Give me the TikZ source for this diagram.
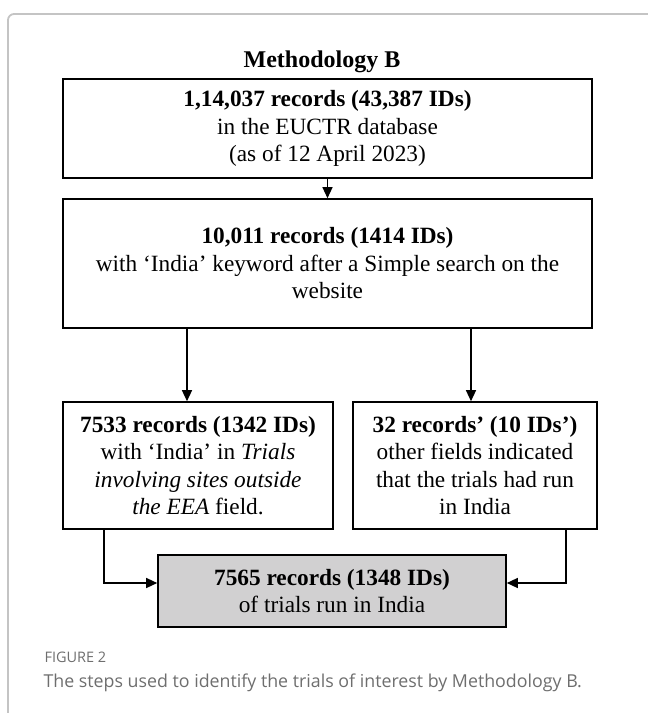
\documentclass[tikz,border=0pt]{standalone}
\usepackage{fontspec}
\setmainfont{Liberation Serif}
\newfontfamily\capfont{Open Sans}
\usetikzlibrary{arrows.meta}
\definecolor{framegray}{HTML}{C4C4C4}
\definecolor{boxgray}{HTML}{D1D0D1}
\definecolor{capgray}{HTML}{6E6E6E}
\tikzset{
  stepbox/.style={draw=black, line width=1.6pt, inner sep=0pt, align=center,
    font=\fontsize{23.3}{27.5}\selectfont},
  arr/.style={line width=1.3pt, -{Triangle[length=11pt,width=10pt]}},
}
\begin{document}
\begin{tikzpicture}[x=1pt,y=1pt]
\useasboundingbox (0,0) rectangle (648,-713);
% outer frame
\draw[framegray, line width=1.8pt, rounded corners=6pt] (8,-720) -- (8,-14) -- (660,-14);
% title
\node[font=\fontsize{24}{28}\selectfont\bfseries] (title) at (322,-62) {Methodology B};
% boxes
\node[stepbox, minimum width=529pt, minimum height=99pt] (b1) at (327.5,-128.5)
  {\textbf{1,14,037 records (43,387 IDs)}\\in the EUCTR database\\(as of 12 April 2023)};
\node[stepbox, minimum width=529pt, minimum height=129pt] (b2) at (327.5,-263.5)
  {\textbf{10,011 records (1414 IDs)}\\with ‘India’ keyword after a Simple search on the\\website};
\node[stepbox, minimum width=270pt, minimum height=127pt] (b3) at (198,-465.5)
  {\textbf{7533 records (1342 IDs)}\\with ‘India’ in \textit{Trials}\\\textit{involving sites outside}\\\textit{the EEA} field.};
\node[stepbox, minimum width=244pt, minimum height=127pt] (b4) at (475,-465.5)
  {\textbf{32 records’ (10 IDs’)}\\other fields indicated\\that the trials had run\\in India};
\node[stepbox, fill=boxgray, minimum width=348pt, minimum height=72pt] (b5) at (332,-591)
  {\textbf{7565 records (1348 IDs)}\\of trials run in India};
% connector anchors
\coordinate (a1) at (187,0);
\coordinate (a2) at (471,0);
\coordinate (lx) at (104,-583);
\coordinate (rx) at (566,-583);
% connectors
\draw[arr] (b1.south) -- (b2.north);
\draw[arr] (b2.south -| a1) -- (b3.north -| a1);
\draw[arr] (b2.south -| a2) -- (b4.north -| a2);
\draw[arr] (b3.south -| lx) |- (b5.west |- lx);
\draw[arr] (b4.south -| rx) |- (b5.east |- rx);
% caption
\node[anchor=west, text=capgray, font=\capfont\fontsize{14.5}{16}\selectfont] (fig) at (41,-657) {FIGURE 2};
\node[anchor=west, text=capgray, font=\capfont\fontsize{17.8}{21}\selectfont] (cap) at (40,-683)
  {The steps used to identify the trials of interest by Methodology B.};
\end{tikzpicture}
\end{document}
